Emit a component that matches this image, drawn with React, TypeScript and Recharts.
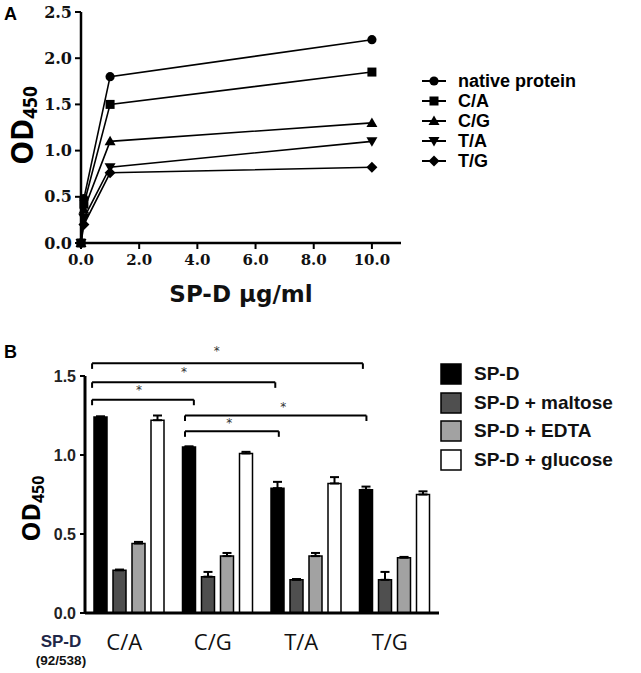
import React from 'react';
import {
  LineChart,
  Line,
  XAxis,
  YAxis,
  Legend,
  BarChart,
  Bar,
  ErrorBar,
  ReferenceLine,
  ReferenceDot,
} from 'recharts';

// ---------- Panel A data ----------
const concentrations = [0, 0.1, 1, 10];
const nativeProtein = [0, 0.48, 1.8, 2.2];
const caProtein = [0, 0.42, 1.5, 1.85];
const cgProtein = [0, 0.36, 1.1, 1.3];
const taProtein = [0, 0.27, 0.82, 1.1];
const tgProtein = [0, 0.2, 0.76, 0.82];
const xTicksA = [0, 2, 4, 6, 8, 10];
const yTicksA = [0, 0.5, 1, 1.5, 2, 2.5];

const seriesA = [
  { key: 'native', name: 'native protein', values: nativeProtein, shape: 'circle' },
  { key: 'ca', name: 'C/A', values: caProtein, shape: 'square' },
  { key: 'cg', name: 'C/G', values: cgProtein, shape: 'triangle' },
  { key: 'ta', name: 'T/A', values: taProtein, shape: 'triangleDown' },
  { key: 'tg', name: 'T/G', values: tgProtein, shape: 'diamond' },
];

const lineData = concentrations.map((c, i) => {
  const row: any = { conc: c };
  seriesA.forEach((s) => (row[s.key] = s.values[i]));
  return row;
});

// ---------- Panel B data ----------
const categories = ['C/A', 'C/G', 'T/A', 'T/G'];
const spdValues = [1.24, 1.05, 0.79, 0.78];
const spdErrors = [0.005, 0.005, 0.04, 0.02];
const maltoseValues = [0.27, 0.23, 0.21, 0.21];
const maltoseErrors = [0.005, 0.03, 0.005, 0.05];
const edtaValues = [0.44, 0.36, 0.36, 0.35];
const edtaErrors = [0.01, 0.02, 0.02, 0.005];
const glucoseValues = [1.22, 1.01, 0.82, 0.75];
const glucoseErrors = [0.03, 0.01, 0.04, 0.02];
const yTicksB = [0, 0.5, 1, 1.5];

const barSeries = [
  { key: 'spd', name: 'SP-D', fill: '#000000', values: spdValues, errors: spdErrors },
  { key: 'maltose', name: 'SP-D + maltose', fill: '#4f4f4f', values: maltoseValues, errors: maltoseErrors },
  { key: 'edta', name: 'SP-D + EDTA', fill: '#a2a2a2', values: edtaValues, errors: edtaErrors },
  { key: 'glucose', name: 'SP-D + glucose', fill: '#ffffff', values: glucoseValues, errors: glucoseErrors },
];

const barData = categories.map((c, i) => {
  const row: any = { category: c, slot: i + 0.5 };
  barSeries.forEach((s) => {
    row[s.key] = s.values[i];
    row[s.key + 'Err'] = [0, s.errors[i]];
  });
  return row;
});

// significance brackets (category units on a 0..4 scale, OD values)
const brackets = [
  { from: 0.08, to: 3.14, y: 1.58, starX: 1.49, starY: 1.665 },
  { from: 0.08, to: 2.15, y: 1.46, starX: 1.12, starY: 1.53 },
  { from: 0.08, to: 1.23, y: 1.35, starX: 0.61, starY: 1.42 },
  { from: 1.13, to: 3.18, y: 1.25, starX: 2.24, starY: 1.31 },
  { from: 1.13, to: 2.19, y: 1.15, starX: 1.63, starY: 1.21 },
];

// ---------- helpers ----------
const marker = (shape: string, cx: number, cy: number, k: any) => {
  const s = 5;
  switch (shape) {
    case 'circle':
      return <circle key={k} cx={cx} cy={cy} r={4.6} fill="#000" />;
    case 'square':
      return <rect key={k} x={cx - 4.5} y={cy - 4.5} width={9} height={9} fill="#000" />;
    case 'triangle':
      return (
        <polygon key={k} points={`${cx},${cy - s - 0.5} ${cx + s + 0.5},${cy + s - 1} ${cx - s - 0.5},${cy + s - 1}`} fill="#000" />
      );
    case 'triangleDown':
      return (
        <polygon key={k} points={`${cx},${cy + s + 0.5} ${cx + s + 0.5},${cy - s + 1} ${cx - s - 0.5},${cy - s + 1}`} fill="#000" />
      );
    default:
      return <polygon key={k} points={`${cx},${cy - s - 0.5} ${cx + s + 0.5},${cy} ${cx},${cy + s + 0.5} ${cx - s - 0.5},${cy}`} fill="#000" />;
  }
};

const makeDot = (shape: string) => (props: any) => {
  const { cx, cy, index } = props;
  if (cx == null || cy == null) return <g key={index} />;
  return marker(shape, cx, cy, `${shape}-${index}`);
};

const LegendA = () => (
  <div style={{ display: 'flex', flexDirection: 'column' }}>
    {seriesA.map((s) => (
      <div key={s.key} style={{ display: 'flex', alignItems: 'center', height: 20 }}>
        <svg width={26} height={14} style={{ display: 'block' }}>
          <line x1={1} y1={7} x2={25} y2={7} stroke="#000" strokeWidth={2} />
          {marker(s.shape, 13, 7, 'm')}
        </svg>
        <span
          style={{
            marginLeft: 11,
            fontFamily: '"Liberation Sans", Arial, sans-serif',
            fontWeight: 700,
            fontSize: 18,
            lineHeight: '20px',
            color: '#000',
          }}
        >
          {s.name}
        </span>
      </div>
    ))}
  </div>
);

const LegendB = () => (
  <div style={{ display: 'flex', flexDirection: 'column' }}>
    {barSeries.map((s) => (
      <div key={s.key} style={{ display: 'flex', alignItems: 'center', height: 28.5 }}>
        <svg width={22} height={22} style={{ display: 'block' }}>
          <rect x={1} y={1} width={20} height={20} fill={s.fill} stroke="#000" strokeWidth={1.5} />
        </svg>
        <span
          style={{
            marginLeft: 12,
            fontFamily: '"Liberation Sans", Arial, sans-serif',
            fontWeight: 700,
            fontSize: 19,
            lineHeight: '22px',
            color: '#111',
          }}
        >
          {s.name}
        </span>
      </div>
    ))}
  </div>
);

const ODLabel = (props: any) => {
  const { viewBox, bx, shift, big, small } = props;
  const vb = viewBox || { x: 0, y: 0, width: 0, height: 0 };
  const x = bx;
  const y = vb.y + vb.height / 2 + shift;
  return (
    <text
      x={x}
      y={y}
      transform={`rotate(-90 ${x} ${y})`}
      textAnchor="middle"
      fontFamily='"Open Sans", sans-serif'
      fontWeight={700}
      fontSize={big}
      fill="#000"
    >
      OD<tspan fontSize={small} dy={4}>450</tspan>
    </text>
  );
};

const ConcLabel = (props: any) => {
  const vb = props.viewBox || { x: 0, y: 0, width: 0, height: 0 };
  return (
    <text
      x={vb.x + vb.width / 2}
      y={vb.y + 59}
      textAnchor="middle"
      fontFamily='"DejaVu Sans", sans-serif'
      fontWeight={700}
      fontSize={23}
      fill="#111"
    >
      SP-D μg/ml
    </text>
  );
};

const SpdAxisLabel = (props: any) => {
  const vb = props.viewBox || { x: 0, y: 0, width: 0, height: 0 };
  const cx = vb.x - 24;
  return (
    <g>
      <text
        x={cx}
        y={vb.y + 34}
        textAnchor="middle"
        fontFamily='"Liberation Sans", Arial, sans-serif'
        fontWeight={700}
        fontSize={17}
        fill="#1f2748"
      >
        SP-D
      </text>
      <text
        x={cx}
        y={vb.y + 52}
        textAnchor="middle"
        fontFamily='"Liberation Sans", Arial, sans-serif'
        fontWeight={700}
        fontSize={13.5}
        fill="#111"
      >
        (92/538)
      </text>
    </g>
  );
};

const Star = (props: any) => {
  const { cx, cy } = props;
  return (
    <text x={cx} y={cy + 5} textAnchor="middle" fontFamily='"DejaVu Sans", sans-serif' fontSize={12} fill="#333">
      *
    </text>
  );
};

const panelLetter: React.CSSProperties = {
  position: 'absolute',
  fontFamily: '"Liberation Sans", Arial, sans-serif',
  fontWeight: 700,
  fontSize: 18,
  color: '#000',
  lineHeight: '18px',
};

export default function App() {
  return (
    <div style={{ position: 'absolute', left: 0, top: 0, width: 641, height: 673, background: '#fff', overflow: 'hidden' }}>
      <div style={{ ...panelLetter, left: 4, top: 5 }}>A</div>
      <div style={{ ...panelLetter, left: 4, top: 343 }}>B</div>

      {/* Panel A */}
      <div style={{ position: 'absolute', left: 0, top: 0 }}>
        <LineChart width={641} height={330} data={lineData} margin={{ top: 12, right: 240, bottom: 7, left: 0 }}>
          <XAxis
            dataKey="conc"
            type="number"
            domain={[0, 11]}
            ticks={xTicksA}
            tickFormatter={(v: number) => v.toFixed(1)}
            height={80}
            axisLine={{ stroke: '#000', strokeWidth: 2.5 }}
            tickLine={{ stroke: '#000', strokeWidth: 2 }}
            tickSize={6}
            tickMargin={5}
            tick={{ fontFamily: '"DejaVu Serif", serif', fontWeight: 700, fontSize: 15, fill: '#111' }}
            label={<ConcLabel />}
          />
          <YAxis
            type="number"
            domain={[0, 2.5]}
            ticks={yTicksA}
            tickFormatter={(v: number) => v.toFixed(1)}
            width={81}
            axisLine={{ stroke: '#000', strokeWidth: 2.5 }}
            tickLine={{ stroke: '#000', strokeWidth: 2 }}
            tickSize={6}
            tickMargin={3}
            tick={{ fontFamily: '"DejaVu Serif", serif', fontWeight: 700, fontSize: 16, fill: '#111' }}
            label={<ODLabel bx={33} shift={-2} big={30} small={19} />}
          />
          <Legend
            layout="vertical"
            align="center"
            verticalAlign="middle"
            wrapperStyle={{ left: 421, top: 71, width: 220 }}
            content={() => <LegendA />}
          />
          {seriesA.map((s) => (
            <Line
              key={s.key}
              dataKey={s.key}
              name={s.name}
              type="linear"
              stroke="#000"
              strokeWidth={1.6}
              dot={makeDot(s.shape)}
              activeDot={false}
              isAnimationActive={false}
            />
          ))}
        </LineChart>
      </div>

      {/* Panel B */}
      <div style={{ position: 'absolute', left: 0, top: 340 }}>
        <BarChart
          width={641}
          height={333}
          data={barData}
          margin={{ top: 36, right: 202, bottom: 5, left: 0 }}
          barGap={6}
        >
          <XAxis
            dataKey="category"
            height={55}
            axisLine={{ stroke: '#000', strokeWidth: 3 }}
            tickLine={false}
            tickSize={0}
            tickMargin={21}
            tick={{ fontFamily: '"Open Sans", sans-serif', fontSize: 22, fill: '#111', dx: -5 }}
            label={<SpdAxisLabel />}
          />
          <XAxis xAxisId="num" dataKey="slot" type="number" domain={[0, 4]} allowDataOverflow hide />
          <YAxis
            type="number"
            domain={[0, 1.5]}
            ticks={yTicksB}
            tickFormatter={(v: number) => v.toFixed(1)}
            width={85}
            axisLine={{ stroke: '#000', strokeWidth: 3 }}
            tickLine={{ stroke: '#000', strokeWidth: 2 }}
            tickSize={5}
            tickMargin={4}
            tick={{ fontFamily: '"Liberation Sans", Arial, sans-serif', fontWeight: 700, fontSize: 16, fill: '#222' }}
            label={<ODLabel bx={40} shift={14} big={25} small={16} />}
          />
          <Legend
            layout="vertical"
            align="center"
            verticalAlign="middle"
            wrapperStyle={{ left: 440, top: 20, width: 200 }}
            content={() => <LegendB />}
          />
          {barSeries.map((s) => (
            <Bar
              key={s.key}
              dataKey={s.key}
              name={s.name}
              fill={s.fill}
              stroke="#000"
              strokeWidth={1.5}
              barSize={13}
              isAnimationActive={false}
            >
              <ErrorBar dataKey={s.key + 'Err'} width={4.5} strokeWidth={2} stroke="#000" direction="y" />
            </Bar>
          ))}
          {brackets.map((b, i) => (
            <ReferenceLine
              key={`h${i}`}
              xAxisId="num"
              segment={[
                { x: b.from, y: b.y },
                { x: b.to, y: b.y },
              ]}
              stroke="#000"
              strokeWidth={2}
              ifOverflow="visible"
            />
          ))}
          {brackets.map((b, i) => (
            <ReferenceLine
              key={`l${i}`}
              xAxisId="num"
              segment={[
                { x: b.from, y: b.y },
                { x: b.from, y: b.y - 0.035 },
              ]}
              stroke="#000"
              strokeWidth={2}
              ifOverflow="visible"
            />
          ))}
          {brackets.map((b, i) => (
            <ReferenceLine
              key={`r${i}`}
              xAxisId="num"
              segment={[
                { x: b.to, y: b.y },
                { x: b.to, y: b.y - 0.035 },
              ]}
              stroke="#000"
              strokeWidth={2}
              ifOverflow="visible"
            />
          ))}
          {brackets.map((b, i) => (
            <ReferenceDot
              key={`s${i}`}
              xAxisId="num"
              x={b.starX}
              y={b.starY}
              r={0}
              ifOverflow="visible"
              shape={<Star />}
            />
          ))}
        </BarChart>
      </div>
    </div>
  );
}
